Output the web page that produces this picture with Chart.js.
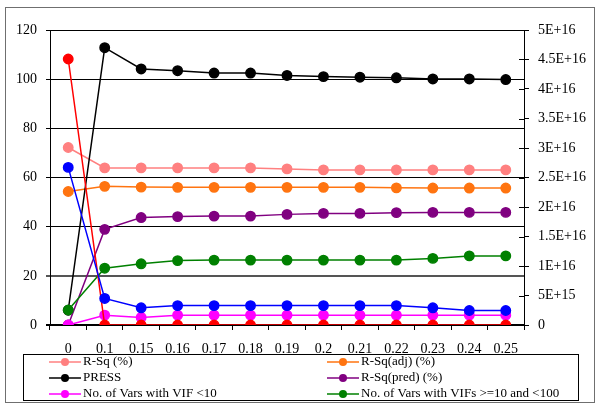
<!DOCTYPE html>
<html>
<head>
<meta charset="utf-8">
<script src="https://cdn.jsdelivr.net/npm/chart.js@4/dist/chart.umd.min.js"></script>
<style>
  html, body { margin: 0; padding: 0; background: #fff; }
</style>
</head>
<body>
<canvas id="chart" width="600" height="410"></canvas>
<script>
// values
const categories = ['0', '0.1', '0.15', '0.16', '0.17', '0.18', '0.19', '0.2', '0.21', '0.22', '0.23', '0.24', '0.25'];
const rSq      = [72.2, 63.9, 63.9, 63.9, 63.9, 63.9, 63.5, 63.1, 63.1, 63.1, 63.1, 63.1, 63.1];
const rSqAdj   = [54.3, 56.4, 56.1, 56.0, 56.0, 56.0, 56.0, 56.0, 56.0, 55.8, 55.7, 55.7, 55.7];
const press    = [2.5e15, 4.7e16, 4.34e16, 4.31e16, 4.27e16, 4.27e16, 4.23e16, 4.21e16, 4.2e16, 4.19e16, 4.17e16, 4.17e16, 4.16e16];
const rSqPred  = [0, 38.9, 43.7, 44.1, 44.3, 44.3, 45.0, 45.4, 45.4, 45.7, 45.8, 45.8, 45.8];
const vifLow   = [0, 4.0, 3.1, 4.0, 4.0, 4.0, 4.0, 4.0, 4.0, 4.0, 4.0, 4.0, 4.0];
const vifMid   = [6.1, 23.1, 24.9, 26.2, 26.4, 26.4, 26.4, 26.4, 26.4, 26.4, 27.1, 28.1, 28.1];
const redSeries  = [108.2, 0, 0, 0, 0, 0, 0, 0, 0, 0, 0, 0, 0];
const blueSeries = [64.1, 10.8, 7.0, 7.9, 7.9, 7.9, 7.9, 7.9, 7.9, 7.9, 7.0, 5.9, 5.9];
const leftTicks = { min: 0, max: 120, step: 20 };
const rightTicks = { min: 0, max: 5e16, step: 5e15 };

Chart.defaults.font.family = "'Liberation Serif', 'DejaVu Serif', serif";
Chart.defaults.font.size = 14;
Chart.defaults.color = '#000';

function series(label, data, color, axis, inLegend) {
    return {
        label: label,
        data: data,
        yAxisID: axis,
        borderColor: color,
        backgroundColor: color,
        pointBackgroundColor: color,
        pointBorderColor: color,
        pointRadius: 4.7,
        pointHoverRadius: 4.7,
        borderWidth: 1.5,
        tension: 0,
        inLegend: inLegend
    };
}

const datasets = [
    series('R-Sq (%)', rSq, '#ff8080', 'y', true),
    series('R-Sq(adj) (%)', rSqAdj, '#ff7410', 'y', true),
    series('PRESS', press, '#000000', 'y2', true),
    series('R-Sq(pred) (%)', rSqPred, '#800080', 'y', true),
    series('No. of Vars with VIF <10', vifLow, '#ff00ff', 'y', true),
    series('No. of Vars with VIFs >=10 and <100', vifMid, '#008000', 'y', true),
    series('No. of Vars with VIFs >=100', redSeries, '#ff0000', 'y', false),
    series('Max VIF', blueSeries, '#0000ff', 'y', false)
];
// later series on top, like the original
datasets.forEach((d, i) => { d.order = datasets.length - i; });

function sciLabel(v) {
    if (v === 0) return '0';
    const exp = Math.floor(Math.log10(v) + 1e-9);
    const mant = parseFloat((v / Math.pow(10, exp)).toPrecision(3));
    return mant + 'E+' + exp;
}

const frame = {
    id: 'frame',
    afterDraw(chart) {
        const ctx = chart.ctx;
        const y2 = chart.scales.y2;
        ctx.save();
        // inner tick marks on the right axis
        ctx.strokeStyle = '#000';
        ctx.lineWidth = 1;
        y2.ticks.forEach(t => {
            const py = Math.round(y2.getPixelForValue(t.value)) + 0.5;
            ctx.beginPath();
            ctx.moveTo(y2.left - 5, py);
            ctx.lineTo(y2.left, py);
            ctx.stroke();
        });

        // legend box
        const box = { x: 23.5, y: 354.5, w: 555, h: 46 };
        ctx.fillStyle = '#fff';
        ctx.fillRect(box.x, box.y, box.w, box.h);
        ctx.strokeStyle = '#000';
        ctx.strokeRect(box.x, box.y, box.w, box.h);

        const entries = chart.data.datasets.filter(d => d.inLegend);
        const cols = [49, 327];
        const rows = [362, 378, 394];
        ctx.font = "13px 'Liberation Serif', 'DejaVu Serif', serif";
        ctx.textBaseline = 'middle';
        ctx.textAlign = 'left';
        entries.forEach((d, i) => {
            const x = cols[i % 2];
            const y = rows[Math.floor(i / 2)];
            ctx.strokeStyle = d.borderColor;
            ctx.lineWidth = 1.5;
            ctx.beginPath();
            ctx.moveTo(x, y);
            ctx.lineTo(x + 32, y);
            ctx.stroke();
            ctx.fillStyle = d.borderColor;
            ctx.beginPath();
            ctx.arc(x + 16, y, 4, 0, Math.PI * 2);
            ctx.fill();
            ctx.fillStyle = '#000';
            ctx.fillText(d.label, x + 34, y);
        });

        // outer chart border
        ctx.strokeStyle = '#6f6f6f';
        ctx.lineWidth = 1;
        ctx.strokeRect(5.5, 7.5, 589, 395);
        ctx.restore();
    }
};

const chart = new Chart(document.getElementById('chart').getContext('2d'), {
    type: 'line',
    data: { labels: categories, datasets: datasets },
    options: {
        responsive: false,
        animation: false,
        layout: { padding: { top: 30, left: 0, right: 0, bottom: 0 } },
        plugins: { legend: { display: false }, tooltip: { enabled: false } },
        scales: {
            x: {
                offset: true,
                grid: { offset: true, drawOnChartArea: false, color: '#000', tickLength: 5 },
                border: { color: '#000', width: 2 },
                ticks: { padding: 11, maxRotation: 0, autoSkip: false },
                afterFit(scale) { scale.height = 85; }
            },
            y: {
                position: 'left',
                min: leftTicks.min,
                max: leftTicks.max,
                grid: {
                    color: ctx => ctx.tick && ctx.tick.value === 20 ? '#555' : '#000',
                    lineWidth: ctx => ctx.tick && (ctx.tick.value === 20 || ctx.tick.value === 0) ? 2 : 1,
                    tickLength: 4
                },
                border: { color: '#000', width: 1 },
                ticks: { stepSize: leftTicks.step, padding: 9 },
                afterFit(scale) { scale.width = 50; }
            },
            y2: {
                position: 'right',
                min: rightTicks.min,
                max: rightTicks.max,
                grid: { drawOnChartArea: false, color: '#000', tickLength: 5 },
                border: { color: '#000', width: 1 },
                ticks: { stepSize: rightTicks.step, padding: 9, callback: v => sciLabel(v) },
                afterFit(scale) { scale.width = 76; }
            }
        }
    },
    plugins: [frame]
});
</script>
</body>
</html>
